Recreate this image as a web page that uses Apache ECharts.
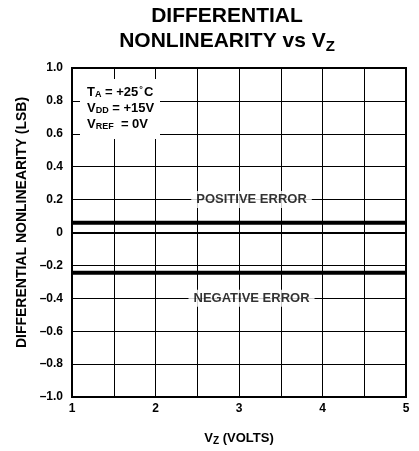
<!DOCTYPE html>
<html><head><meta charset="utf-8">
<script src="https://cdn.jsdelivr.net/npm/echarts@6/dist/echarts.min.js"></script>
<style>html,body{margin:0;padding:0;background:#fff}#c{width:419px;height:451px}</style>
</head><body><div id="c"></div>
<script>
const vz = [1, 5];
const positiveError = [0.06, 0.06];
const negativeError = [-0.245, -0.245];
const yTicks = [-1.0, -0.8, -0.6, -0.4, -0.2, 0, 0.2, 0.4, 0.6, 0.8, 1.0];
const xTicks = [1, 2, 3, 4, 5];
const curveLabels = [
  {name: 'POSITIVE ERROR', x: 3.15, y: 0.2},
  {name: 'NEGATIVE ERROR', x: 3.15, y: -0.4}
];
const FONT = '"Liberation Sans", Arial, Helvetica, sans-serif';

const chart = echarts.init(document.getElementById('c'));
chart.setOption({
  animation: false,
  backgroundColor: '#fff',
  title: {
    text: '{b|DIFFERENTIAL}\n{b|NONLINEARITY vs V}{s|Z}',
    left: 222, top: -1, textAlign: 'center',
    textStyle: {
      align: 'center',
      rich: {
        b: {fontFamily: FONT, fontWeight: 'bold', fontSize: 21, color: '#000', lineHeight: 25, align: 'center'},
        s: {fontFamily: FONT, fontWeight: 'bold', fontSize: 15, color: '#000', lineHeight: 25, padding: [10, 0, 0, 0]}
      }
    }
  },
  grid: {left: 72, right: 13, top: 68, bottom: 51, show: true, borderColor: '#000', borderWidth: 2, z: 5},
  xAxis: {
    type: 'value', min: 1, max: 5, interval: 0.5,
    name: '{n|V}{s|Z}{n| (VOLTS)}', nameLocation: 'middle', nameGap: 33,
    nameTextStyle: {rich: {
      n: {fontFamily: FONT, fontWeight: 'bold', fontSize: 13, color: '#000'},
      s: {fontFamily: FONT, fontWeight: 'bold', fontSize: 10, color: '#000', padding: [6, 0, 0, 0]}
    }},
    axisLine: {show: true, lineStyle: {color: '#000', width: 2}},
    axisTick: {show: false},
    splitLine: {show: true, lineStyle: {color: '#000', width: 1}},
    axisLabel: {
      margin: 6, color: '#000', fontFamily: FONT, fontWeight: 'bold', fontSize: 12,
      formatter: v => xTicks.includes(v) ? String(v) : ''
    }
  },
  yAxis: {
    type: 'value', min: -1, max: 1, interval: 0.2,
    name: 'DIFFERENTIAL NONLINEARITY (LSB)', nameLocation: 'middle', nameGap: 32, nameRotate: 90,
    nameTextStyle: {fontFamily: FONT, fontWeight: 'bold', fontSize: 14, color: '#000', padding: [0, 0, 0, 20]},
    axisLine: {show: true, lineStyle: {color: '#000', width: 2}},
    axisTick: {show: false},
    splitLine: {show: true, lineStyle: {color: '#000', width: 1}},
    axisLabel: {
      margin: 9, color: '#000', fontFamily: FONT, fontWeight: 'bold', fontSize: 12,
      formatter: v => {
        const r = Math.round(v * 10) / 10;
        if (r === 0) return '0';
        return (r < 0 ? '\u2013' : '') + Math.abs(r).toFixed(1);
      }
    }
  },
  graphic: [
    {type: 'rect', z: 100, shape: {x: 80, y: 79, width: 80, height: 60}, style: {fill: '#fff'}},
    {type: 'text', z: 101, x: 87, y: 84, style: {
      text: '{n|T}{s|A}{n| = +25}{d|°}{n|C}\n{n|V}{s|DD}{n| = +15V}\n{n|V}{s|REF}{n|  = 0V}',
      rich: {
        n: {fontFamily: FONT, fontWeight: 'bold', fontSize: 13, color: '#000', lineHeight: 16},
        s: {fontFamily: FONT, fontWeight: 'bold', fontSize: 9, color: '#000', lineHeight: 16, padding: [6, 0, 0, 0]},
        d: {fontFamily: FONT, fontWeight: 'bold', fontSize: 9, color: '#000', lineHeight: 16, padding: [0, 1, 5, 1]}
      }
    }}
  ],
  series: [
    {type: 'line', data: vz.map((x, i) => [x, positiveError[i]]), showSymbol: false, symbol: 'none',
     lineStyle: {color: '#000', width: 4}, z: 3},
    {type: 'line', data: vz.map((x, i) => [x, negativeError[i]]), showSymbol: false, symbol: 'none',
     lineStyle: {color: '#000', width: 4}, z: 3},
    {type: 'scatter', symbolSize: 0, data: curveLabels.map(d => ({name: d.name, value: [d.x, d.y]})), z: 4,
     label: {show: true, position: 'inside', formatter: p => p.name, color: '#000',
       fontFamily: FONT, fontWeight: 'bold', fontSize: 13, backgroundColor: '#fff', padding: [2, 5]}}
  ]
});
</script></body></html>
